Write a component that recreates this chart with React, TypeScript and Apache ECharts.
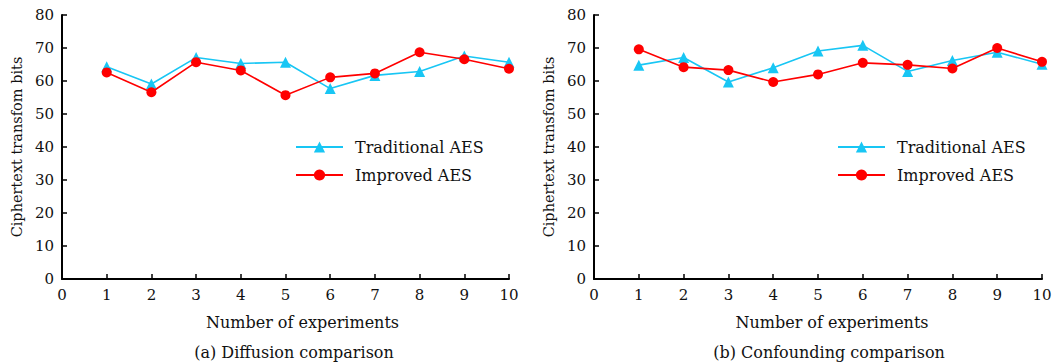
import React, { useEffect, useRef } from "react";
import * as echarts from "echarts";

const experiments = [1, 2, 3, 4, 5, 6, 7, 8, 9, 10];
const diffusionTraditional = [64.3, 59.1, 67.1, 65.3, 65.7, 57.7, 61.7, 62.9, 67.6, 65.7];
const diffusionImproved = [62.6, 56.6, 65.7, 63.2, 55.7, 61.1, 62.3, 68.7, 66.6, 63.7];
const confoundTraditional = [64.8, 67.1, 59.7, 64.0, 69.1, 70.8, 62.9, 66.2, 68.7, 65.1];
const confoundImproved = [69.6, 64.2, 63.3, 59.7, 62.0, 65.5, 64.9, 63.8, 70.0, 65.8];
const seriesNames = ["Traditional AES", "Improved AES"];
const captions = ["(a) Diffusion comparison", "(b) Confounding comparison"];
const yAxisName = "Ciphertext transfom bits";
const xAxisName = "Number of experiments";

const FONT = "DejaVu Serif";
const CYAN = "#18c6f4";
const RED = "#ff0000";
const TXT = "#111";

export default function App() {
  const ref = useRef<HTMLDivElement>(null);
  useEffect(() => {
    if (!ref.current) return;
    const chart = echarts.init(ref.current, undefined, { renderer: "svg" });
    const pairs = (vals: number[]) => experiments.map((x, i) => [x, vals[i]]);
    const grids = [
      { left: 62, top: 15, width: 447, height: 264 },
      { left: 594, top: 15, width: 448, height: 264 },
    ];
    const namePad = [34, 28];
    const xAxis = grids.map((_, i) => ({
      type: "value",
      gridIndex: i,
      min: 0,
      max: 10,
      interval: 1,
      name: xAxisName,
      nameLocation: "middle",
      nameGap: 35,
      nameTextStyle: { fontFamily: FONT, fontSize: 16, color: TXT, padding: [0, 0, 0, namePad[i]] },
      axisLine: { lineStyle: { color: "#000", width: 2 } },
      axisTick: { inside: true, length: 5, lineStyle: { color: "#000", width: 1.5 } },
      axisLabel: { fontFamily: FONT, fontSize: 15, color: TXT, margin: 8 },
      splitLine: { show: false },
    }));
    const yAxis = grids.map((_, i) => ({
      type: "value",
      gridIndex: i,
      min: 0,
      max: 80,
      interval: 10,
      name: yAxisName,
      nameLocation: "middle",
      nameGap: 38,
      nameTextStyle: { fontFamily: FONT, fontSize: 14.5, color: TXT },
      axisLine: { show: true, lineStyle: { color: "#000", width: 2 } },
      axisTick: { show: true, inside: true, length: 5, lineStyle: { color: "#000", width: 1.5 } },
      axisLabel: { fontFamily: FONT, fontSize: 15, color: TXT, margin: 8 },
      splitLine: { show: false },
    }));
    const mk = (name: string, idx: number, vals: number[]) => {
      const trad = name === seriesNames[0];
      return {
        name,
        type: "line",
        xAxisIndex: idx,
        yAxisIndex: idx,
        data: pairs(vals),
        symbol: trad ? "triangle" : "circle",
        symbolSize: trad ? 11 : 10,
        lineStyle: { color: trad ? CYAN : RED, width: 1.6 },
        itemStyle: { color: trad ? CYAN : RED },
        z: trad ? 2 : 3,
      };
    };
    const legend = [295, 837].map((left) => ({
      data: seriesNames,
      orient: "vertical",
      left,
      top: 139,
      padding: 0,
      itemWidth: 47,
      itemHeight: 14,
      itemGap: 12,
      textStyle: { fontFamily: FONT, fontSize: 16, color: TXT, padding: [0, 0, 0, 7] },
    }));
    const captionX = [294, 829];
    chart.setOption({
      animation: false,
      backgroundColor: "#fff",
      grid: grids,
      xAxis,
      yAxis,
      legend,
      series: [
        mk(seriesNames[0], 0, diffusionTraditional),
        mk(seriesNames[1], 0, diffusionImproved),
        mk(seriesNames[0], 1, confoundTraditional),
        mk(seriesNames[1], 1, confoundImproved),
      ],
      graphic: captions.map((text, i) => ({
        type: "text",
        x: captionX[i],
        y: 344,
        style: { text, fontFamily: FONT, fontSize: 16, fill: TXT, align: "center" },
      })),
    });
    return () => chart.dispose();
  }, []);
  return (
    <div
      ref={ref}
      style={{ position: "fixed", left: 0, top: 0, width: 1058, height: 364 }}
    />
  );
}
